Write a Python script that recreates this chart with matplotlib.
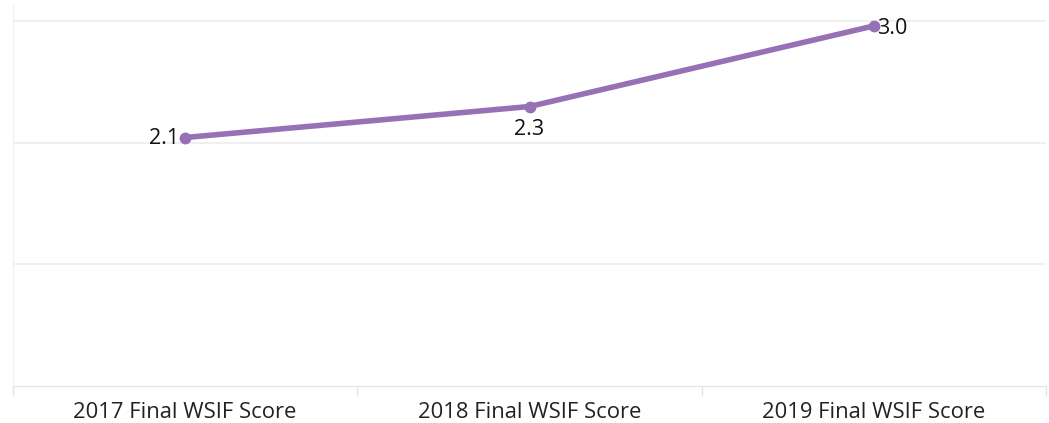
import matplotlib
matplotlib.use("Agg")
import matplotlib.pyplot as plt
import numpy as np

categories = ["2017 Final WSIF Score", "2018 Final WSIF Score", "2019 Final WSIF Score"]
scores = [2.06, 2.31, 2.96]
label_pos = ["left", "below", "right"]

plt.rcParams['font.family'] = ['Open Sans', 'DejaVu Sans']

fig = plt.figure(figsize=(10.49, 4.23), dpi=100)
ax = fig.add_axes([13/1049, 1 - 386/423, (1046 - 13)/1049, (386 - 5)/423])

x = np.arange(len(categories))
color = "#9771B6"
ax.plot(x, scores, color=color, lw=4.0, marker="o", ms=7.5, solid_capstyle="round", zorder=3)

ax.set_xlim(-0.5, len(categories) - 0.5)
ymin, step = 0.056, 0.9815
ax.set_ylim(ymin, ymin + 381 * (step / 121.7))
ax.set_yticks([ymin + i * step for i in range(1, 4)])
ax.grid(axis="y", color="#efefef", lw=1.4)
ax.set_yticklabels([])
ax.tick_params(axis="y", length=0)

ax.set_xticks(x)
ax.set_xticklabels(categories, fontsize=15.8, color="#222222")
ax.set_xticks(np.arange(-0.5, len(categories)), minor=True)
ax.tick_params(axis="x", which="major", length=0, pad=11.5)
ax.tick_params(axis="x", which="minor", length=7, width=1, color="#e6e6e6")

for s in ["top", "right"]:
    ax.spines[s].set_visible(False)
ax.spines["left"].set_color("#f0f0f0")
ax.spines["bottom"].set_color("#e6e6e6")
ax.spines["bottom"].set_linewidth(1.0)

fs = 15.5
for xi, v, pos in zip(x, scores, label_pos):
    txt = f"{v:.1f}"
    if pos == "left":
        ax.annotate(txt, (xi, v), xytext=(-4, -1), textcoords="offset points",
                    ha="right", va="center", fontsize=fs, color="#111111")
    elif pos == "below":
        ax.annotate(txt, (xi, v), xytext=(0, -9), textcoords="offset points",
                    ha="center", va="top", fontsize=fs, color="#111111")
    else:
        ax.annotate(txt, (xi, v), xytext=(2, -2), textcoords="offset points",
                    ha="left", va="center", fontsize=fs, color="#111111")

fig.savefig("out.png", dpi=100)
